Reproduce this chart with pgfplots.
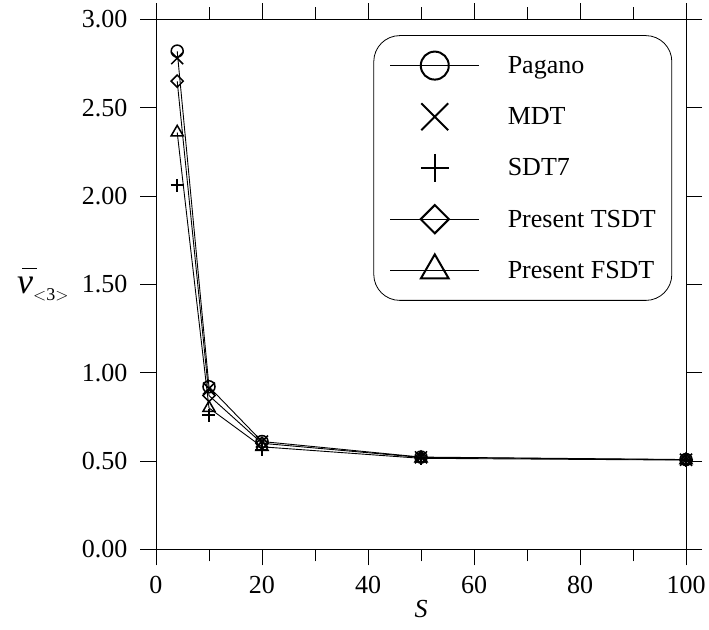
\documentclass[border=0pt]{standalone}
\usepackage{pgfplots}
\pgfplotsset{compat=1.18}
\usepackage{fontspec}
\setmainfont{Liberation Serif}
\usetikzlibrary{calc}
\newcommand{\bigf}{\fontsize{26}{30}\selectfont}
\begin{document}
\begin{tikzpicture}
\begin{axis}[
  name=ax,
  scale only axis,
  width=530pt, height=530pt,
  xmin=0, xmax=100, ymin=0, ymax=3,
  xtick={0,20,40,60,80,100},
  minor xtick={10,30,50,70,90},
  ytick={0,0.5,1,1.5,2,2.5,3},
  tick align=outside,
  major tick length=16pt,
  minor tick length=12pt,
  tick style={black, line width=0.8pt},
  axis line style={line width=0.9pt},
  /pgf/number format/assume math mode=true,
  yticklabel style={/pgf/number format/fixed, /pgf/number format/fixed zerofill, /pgf/number format/precision=2, xshift=-9pt},
  xticklabel style={yshift=-7pt},
  tick label style={font=\bigf},
  every axis x label/.style={at={(rel axis cs:0.5,0)}, anchor=north, yshift=-47pt},
  every axis y label/.style={at={(rel axis cs:0,0.5)}, anchor=east, xshift=-84pt},
  xlabel={\bigf\textit{S}},
  ylabel={\makebox[0pt][l]{\hspace{5pt}\raisebox{24pt}{\rule{15pt}{1.6pt}}}{\fontsize{36}{36}\selectfont\textit{v}}\raisebox{-7pt}{\fontsize{18}{18}\selectfont $<$3$>$}},
  legend style={at={(rel axis cs:0.974,0.970)}, anchor=north east, draw=black, line width=0.8pt,
    rounded corners=26pt, font=\bigf, inner xsep=16pt, inner ysep=4.4pt, row sep=0pt,
    column sep=28pt, nodes={inner sep=0pt, draw=none, sharp corners}},
  legend cell align=left,
  every mark/.append style={fill=white, solid},
]
\addlegendimage{legend image code/.code={\path[draw=none, fill=none] (0pt,-25.6pt) rectangle (89pt,25.6pt); \draw[sharp corners, line width=1pt] (0pt,0pt)--(89pt,0pt);
  \draw[sharp corners, line width=2pt, mark size=14pt, mark=o, mark options={fill=white}] plot coordinates {(44.5pt,0pt)};}}
\addlegendentry{Pagano}
\addlegendimage{legend image code/.code={\path[draw=none, fill=none] (0pt,-25.6pt) rectangle (89pt,25.6pt);
  \draw[sharp corners, line width=2pt, mark size=19pt, mark=x] plot coordinates {(44.5pt,0pt)};}}
\addlegendentry{MDT}
\addlegendimage{legend image code/.code={\path[draw=none, fill=none] (0pt,-25.6pt) rectangle (89pt,25.6pt);
  \draw[sharp corners, line width=2.4pt, mark size=14pt, mark=+] plot coordinates {(44.5pt,0pt)};}}
\addlegendentry{SDT7}
\addlegendimage{legend image code/.code={\path[draw=none, fill=none] (0pt,-25.6pt) rectangle (89pt,25.6pt); \draw[sharp corners, line width=1pt] (0pt,0pt)--(89pt,0pt);
  \draw[sharp corners, line width=2pt, mark size=10pt, mark=square, mark options={rotate=45, fill=white}] plot coordinates {(44.5pt,0pt)};}}
\addlegendentry{Present TSDT}
\addlegendimage{legend image code/.code={\path[draw=none, fill=none] (0pt,-25.6pt) rectangle (89pt,25.6pt); \draw[sharp corners, line width=1pt] (0pt,0pt)--(89pt,0pt);
  \draw[sharp corners, line width=2pt, mark size=16pt, mark=triangle, mark options={fill=white}] plot coordinates {(44.5pt,0pt)};}}
\addlegendentry{Present FSDT}

% Present FSDT
\addplot[forget plot, black, line width=0.9pt, mark=triangle, mark size=7pt, mark options={line width=1.5pt}]
  coordinates {(4,2.36) (10,0.80) (20,0.58) (50,0.515) (100,0.505)};
% Present TSDT
\addplot[forget plot, black, line width=0.9pt, mark=square, mark size=4.3pt, mark options={rotate=45, line width=1.5pt}]
  coordinates {(4,2.65) (10,0.87) (20,0.60) (50,0.52) (100,0.507)};
% Pagano
\addplot[forget plot, black, line width=0.9pt, mark=o, mark size=6pt, mark options={line width=1.5pt}]
  coordinates {(4,2.82) (10,0.92) (20,0.61) (50,0.522) (100,0.508)};
% SDT7
\addplot[forget plot, black, only marks, mark=+, mark size=6.5pt, mark options={line width=1.8pt}]
  coordinates {(4,2.06) (10,0.76) (20,0.565) (50,0.515) (100,0.505)};
% MDT
\addplot[forget plot, black, only marks, mark=x, mark size=8.5pt, mark options={line width=1.5pt}]
  coordinates {(4,2.78) (10,0.91) (20,0.61) (50,0.52) (100,0.507)};
\end{axis}
\pgfresetboundingbox
\path[use as bounding box] ($(ax.south west)+(-156pt,-79.7pt)$) rectangle ($(ax.south west)+(553pt,549.3pt)$);
\end{tikzpicture}
\end{document}
